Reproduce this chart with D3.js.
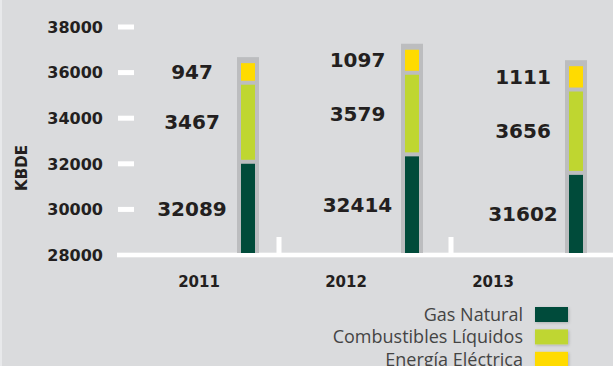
<!DOCTYPE html>
<html><head><meta charset="utf-8">
<script src="https://cdn.jsdelivr.net/npm/d3@7"></script>
<style>
html,body{margin:0;padding:0;background:#dadbdd;}
svg{display:block;}
</style>
</head><body>
<svg id="chart" width="613" height="366"></svg>
<script>
const years = ["2011", "2012", "2013"];
const gasNatural = [32089, 32414, 31602];
const combustibles = [3467, 3579, 3656];
const energia = [947, 1097, 1111];
const seriesNames = ["Gas Natural", "Combustibles Líquidos", "Energía Eléctrica"];
const seriesColors = ["#004b3a", "#bfd630", "#ffdb00"];
const yTicks = [28000, 30000, 32000, 34000, 36000, 38000];
const yLabel = "KBDE";

const W = 613, H = 366;
const svg = d3.select("#chart");
const bg = "#dadbdd";
svg.append("rect").attr("width", W).attr("height", H).attr("fill", bg);
svg.append("rect").attr("x", 0).attr("y", 0).attr("width", 2).attr("height", H).attr("fill", "#e8e9eb");

const y = d3.scaleLinear().domain([28000, 38000]).range([255, 27]);
const xBand = d3.scaleBand().domain(years).range([107, 623]).paddingInner(0);
const xBar = d3.scalePoint().domain(years).range([248, 576]);
const xVal = d3.scalePoint().domain(years).range([192, 523]);
const xCat = d3.scalePoint().domain(years).range([199, 493]);

const textCol = "#231f20";

// y-axis ticks and labels
const ticks = svg.append("g");
yTicks.forEach(t => {
  if (t !== 28000) {
    ticks.append("rect").attr("x", 118).attr("y", y(t) - 2.5).attr("width", 16).attr("height", 5).attr("fill", "#ffffff");
  }
  ticks.append("text").attr("x", 103).attr("y", y(t)).attr("dy", "0.36em")
    .attr("text-anchor", "end").attr("font-family", "DejaVu Sans").attr("font-weight", "bold")
    .attr("font-size", 16).attr("fill", textCol).text(t);
});

// axis line
svg.append("rect").attr("x", 117).attr("y", y(28000) - 2.3).attr("width", W - 117).attr("height", 4.6).attr("fill", "#ffffff");

// separators at band starts
years.forEach((yr, i) => {
  if (i > 0) {
    svg.append("rect").attr("x", xBand(yr) - 2.5).attr("y", y(28000) - 18).attr("width", 5).attr("height", 18).attr("fill", "#ffffff");
  }
});

// y label
svg.append("text").attr("transform", `translate(27,168) rotate(-90)`)
  .attr("text-anchor", "middle").attr("font-family", "DejaVu Sans").attr("font-weight", "bold")
  .attr("font-size", 15).attr("fill", textCol).text(yLabel);

// bars
const barOuter = 22, barInner = 14, gap = 2;
const base = y(28000) - 2;
years.forEach((yr, i) => {
  const vals = [gasNatural[i], combustibles[i], energia[i]];
  const cx = xBar(yr);
  const total = vals[0] + vals[1] + vals[2];
  svg.append("rect").attr("x", cx - barOuter / 2).attr("y", y(total) - gap - 2)
    .attr("width", barOuter).attr("height", base - (y(total) - gap - 2)).attr("fill", "#bcbdbf");
  let lo = 28000;
  vals.forEach((v, k) => {
    const hi = (k === 0 ? v : lo + v);
    const top = y(hi) + gap;
    const bottom = k === 0 ? base : y(lo) - gap;
    svg.append("rect").attr("x", cx - barInner / 2).attr("y", top)
      .attr("width", barInner).attr("height", bottom - top).attr("fill", seriesColors[k]);
    svg.append("text").attr("x", xVal(yr)).attr("y", (top + bottom) / 2).attr("dy", "0.36em")
      .attr("text-anchor", "middle").attr("font-family", "DejaVu Sans").attr("font-weight", "bold")
      .attr("font-size", 20).attr("fill", textCol).text(v);
    lo = hi;
  });
  svg.append("text").attr("x", xCat(yr)).attr("y", 287)
    .attr("text-anchor", "middle").attr("font-family", "DejaVu Sans").attr("font-weight", "bold")
    .attr("font-size", 15).attr("fill", textCol).text(yr);
});

// legend
const defs = svg.append("defs");
const f = defs.append("filter").attr("id", "sh").attr("x", "-30%").attr("y", "-30%").attr("width", "160%").attr("height", "160%");
f.append("feDropShadow").attr("dx", 1).attr("dy", 1).attr("stdDeviation", 1.5).attr("flood-color", "#000").attr("flood-opacity", 0.2);
seriesNames.forEach((name, k) => {
  const cy = 314.5 + k * 22.4;
  svg.append("rect").attr("x", 535).attr("y", cy - 7.5).attr("width", 33).attr("height", 15)
    .attr("fill", seriesColors[k]).attr("filter", "url(#sh)");
  svg.append("text").attr("x", 523).attr("y", cy).attr("dy", "0.36em")
    .attr("text-anchor", "end").attr("font-family", "Open Sans").attr("font-weight", 400)
    .attr("font-size", 18).attr("fill", "#444444").text(name);
});
</script>
</body></html>
